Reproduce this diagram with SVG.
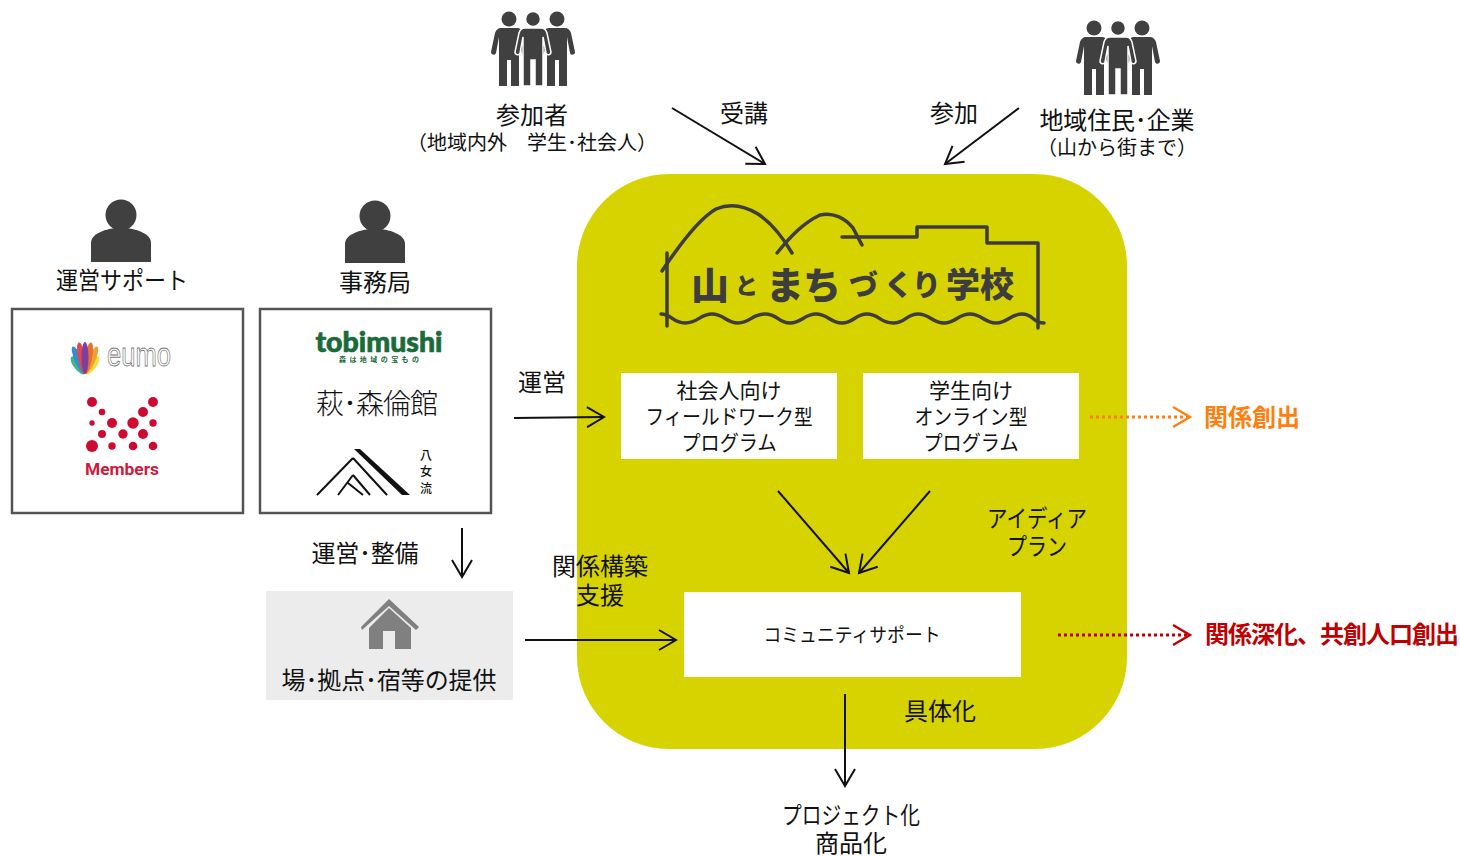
<svg xmlns="http://www.w3.org/2000/svg" width="1460" height="856" viewBox="0 0 1460 856">
<style>
text{font-family:"Noto Sans CJK JP","Noto Sans",sans-serif;fill:#111;text-anchor:middle}
.t23{font-size:24px}.t21{font-size:21px}.t19{font-size:19px}
.box{fill:#fff;stroke:#555;stroke-width:2.5}
.w{fill:#fff}
.c{fill:none;stroke:#111;stroke-width:2}
.ico{fill:#404040}
.logo{fill:none;stroke:#3d3d3d;stroke-width:3.5;stroke-linecap:round;stroke-linejoin:round}
.lt{fill:#3d3d3d;font-weight:900;text-anchor:start}
.red{fill:#cf0a32}
</style>
<defs>
<marker id="a" markerWidth="24" markerHeight="24" refX="20" refY="12" markerUnits="userSpaceOnUse" orient="auto"><path d="M3 2L20 12L3 22" fill="none" stroke="#111" stroke-width="2"/></marker>
<marker id="ao" markerWidth="24" markerHeight="24" refX="20" refY="12" markerUnits="userSpaceOnUse" orient="auto"><path d="M3 2L20 12L3 22" fill="none" stroke="#ff7f0e" stroke-width="2.4"/></marker>
<marker id="ar" markerWidth="24" markerHeight="24" refX="20" refY="12" markerUnits="userSpaceOnUse" orient="auto"><path d="M3 2L20 12L3 22" fill="none" stroke="#c00000" stroke-width="2.4"/></marker>
<g id="p"><circle cx="0" cy="0" r="15.5"/><path d="M-30 47V28C-30 19-16 13 0 13S30 19 30 28V47Z"/></g>
<g id="m"><circle cx="0" cy="0" r="7.5"/><path d="M-8 9H8C11 9 13 11 14 14L18 33C18 36 14 37 13 34L10 18V67H2V41H-2V67H-10V18L-13 34C-14 37-18 36-18 33L-14 14C-13 11-11 9-8 9Z"/></g>
</defs>

<g id="school"><rect x="577" y="174" width="550" height="575" rx="92" fill="#d7d300"/></g>
<g id="logo">
<path class="logo" d="M662 271C680 244 700 218 716 209C730 203 745 206 758 214C770 222 782 236 792 253"/>
<path class="logo" d="M777 253C790 237 803 223 820 215C833 212 845 218 853 228L862 245"/>
<path class="logo" d="M842 237H917V227H987V243H1038V328"/>
<path class="logo" d="M667 253V326"/>
<path class="logo" d="M661 314C672 314 672 323 685 323S700 314 712 314S726 323 738 323S752 314 765 314S778 323 790 323S804 314 816 314S830 323 842 323S855 314 867 314S880 323 893 323S906 314 918 314S932 323 944 323S958 314 970 314S984 323 996 323S1010 314 1022 314S1032 323 1044 323"/>
<text class="lt" font-size="38" x="691" y="299">山</text>
<text class="lt" font-size="23" x="735" y="294">と</text>
<text class="lt" font-size="38" x="766" y="299">ま</text>
<text class="lt" font-size="38" x="803" y="299">ち</text>
<text class="lt" font-size="29" x="849" y="296">づ</text>
<text class="lt" font-size="29" x="884" y="296">く</text>
<text class="lt" font-size="29" x="912" y="296">り</text>
<text class="lt" font-size="34" x="946" y="297">学校</text>
</g>

<g id="participants" class="ico"><use href="#m" x="509" y="19"/><use href="#m" x="557" y="19"/><use href="#m" x="533" y="19" stroke="#fff" stroke-width="1.5"/></g>
<g id="participants-label"><text class="t23" x="532" y="124">参加者</text><text class="t21" x="532" y="150" font-size="20" style="font-size:20px">（地域内外　学生･社会人）</text></g>
<g id="residents" class="ico"><use href="#m" x="1094" y="28"/><use href="#m" x="1142" y="28"/><use href="#m" x="1118" y="28" stroke="#fff" stroke-width="1.5"/></g>
<g id="residents-label"><text class="t23" x="1117" y="129" textLength="155">地域住民･企業</text><text class="t21" x="1117" y="155" style="font-size:20px">（山から街まで）</text></g>

<g id="support"><use href="#p" x="121" y="215" class="ico"/><text class="t23" x="122" y="289" textLength="132" lengthAdjust="spacingAndGlyphs">運営サポート</text>
<rect class="box" x="12" y="309" width="231" height="204"/>
<g id="eumo-logo">
<ellipse cx="85" cy="363" rx="4.5" ry="11" fill="#3fb58c" transform="rotate(-38 85 374)"/>
<ellipse cx="85" cy="359" rx="4" ry="15" fill="#2f8fd0" transform="rotate(-24 85 374)"/>
<ellipse cx="85" cy="358" rx="4" ry="16" fill="#e0484e" transform="rotate(-11 85 374)"/>
<ellipse cx="85" cy="363" rx="4.5" ry="11" fill="#f3dc3c" transform="rotate(38 85 374)"/>
<ellipse cx="85" cy="359" rx="4" ry="15" fill="#f0a030" transform="rotate(24 85 374)"/>
<ellipse cx="85" cy="358" rx="4" ry="16" fill="#e8702a" transform="rotate(11 85 374)"/>
<ellipse cx="85" cy="358" rx="3.5" ry="16" fill="#7b3fa0"/>
<text x="139" y="366" font-size="33" textLength="64" lengthAdjust="spacingAndGlyphs" style="fill:none;stroke:#777;stroke-width:.8;font-family:'Liberation Sans',sans-serif">eumo</text></g>
<g id="members-logo" class="red">
<circle cx="92" cy="402" r="5"/><circle cx="153" cy="402" r="5"/><circle cx="102" cy="412" r="3.3"/><circle cx="143" cy="412" r="5"/><circle cx="92" cy="423" r="2.7"/><circle cx="112" cy="423" r="5"/><circle cx="133" cy="423" r="5.7"/><circle cx="153" cy="423" r="3.7"/><circle cx="102" cy="434" r="4"/><circle cx="123" cy="434" r="4.7"/><circle cx="143" cy="434" r="5"/><circle cx="92" cy="446" r="6"/><circle cx="112" cy="446" r="3.7"/><circle cx="133" cy="446" r="4.3"/><circle cx="153" cy="446" r="4.3"/>
<text x="122" y="475" font-size="16" font-weight="700" textLength="74" lengthAdjust="spacingAndGlyphs" style="fill:#cf1a40;font-family:'Roboto',sans-serif">Members</text></g>
</g>

<g id="secretariat"><use href="#p" x="375" y="216" class="ico"/><text class="t23" x="375" y="291">事務局</text>
<rect class="box" x="260" y="309" width="231" height="204"/>
<text x="379" y="352" font-size="28" font-weight="900" textLength="127" lengthAdjust="spacingAndGlyphs" style="fill:#1a6b3a;stroke:#1a6b3a;stroke-width:.7;font-family:'Lato',sans-serif">tobimushi</text>
<text x="379" y="362" font-size="7" textLength="80" style="fill:#1a6b3a;font-weight:700">森は地域の宝もの</text>
<text x="377" y="414" font-size="28" textLength="122" style="font-weight:300">萩･森倫館</text>
<g id="yame-logo"><path d="M353 458L317 495M353 458L387 495M353 475L338 495M353 475L370 495M348 483L363 495" fill="none" stroke="#111" stroke-width="2"/><path d="M354 449L360 449L410 495H402Z" fill="#111"/>
<text x="426" y="460" font-size="12" font-weight="500">八</text><text x="426" y="476" font-size="12" font-weight="500">女</text><text x="426" y="493" font-size="12" font-weight="500">流</text></g>
</g>

<g id="facility"><rect x="266" y="591" width="247" height="109" fill="#ececec"/>
<path d="M389 599L419 627L416 630L389 606L362 630L361 627Z" fill="#808080"/><path d="M389 608L411 628V649H395V631H383V649H369V628Z" fill="#808080"/>
<text class="t23" x="389" y="689" textLength="215">場･拠点･宿等の提供</text></g>

<g id="prog1"><rect class="w" x="621" y="373" width="216" height="86"/><text class="t21" x="729" y="398">社会人向け</text><text class="t21" x="729" y="424" textLength="167" lengthAdjust="spacingAndGlyphs">フィールドワーク型</text><text class="t21" x="729" y="450" textLength="95" lengthAdjust="spacingAndGlyphs">プログラム</text></g>
<g id="prog2"><rect class="w" x="863" y="373" width="216" height="86"/><text class="t21" x="971" y="398">学生向け</text><text class="t21" x="971" y="424" textLength="113" lengthAdjust="spacingAndGlyphs">オンライン型</text><text class="t21" x="971" y="450" textLength="95" lengthAdjust="spacingAndGlyphs">プログラム</text></g>
<g id="community"><rect class="w" x="684" y="592" width="337" height="85"/><text class="t19" x="852" y="642" textLength="177" lengthAdjust="spacingAndGlyphs">コミュニティサポート</text></g>

<g id="connectors">
<path class="c" marker-end="url(#a)" d="M672 108L765 164"/>
<path class="c" marker-end="url(#a)" d="M1019 108L945 164"/>
<path class="c" marker-end="url(#a)" d="M514 418L604 417"/>
<path class="c" marker-end="url(#a)" d="M462 528V577"/>
<path class="c" marker-end="url(#a)" d="M525 640H676"/>
<path class="c" marker-end="url(#a)" d="M778 491L849 573"/>
<path class="c" marker-end="url(#a)" d="M930 491L859 573"/>
<path class="c" marker-end="url(#a)" d="M845 694V786"/>
<path fill="none" stroke="#ff7f0e" stroke-width="3" stroke-dasharray="3 3" marker-end="url(#ao)" d="M1090 417H1190"/>
<path fill="none" stroke="#c00000" stroke-width="3" stroke-dasharray="3 3" marker-end="url(#ar)" d="M1058 635H1190"/>
</g>

<g id="labels">
<text class="t23" x="744" y="122">受講</text>
<text class="t23" x="954" y="122">参加</text>
<text class="t23" x="542" y="391">運営</text>
<text class="t23" x="365" y="562" textLength="107">運営･整備</text>
<text class="t23" x="600" y="575">関係構築</text>
<text class="t23" x="600" y="604">支援</text>
<text class="t23" x="1037" y="527" textLength="100" lengthAdjust="spacingAndGlyphs">アイディア</text>
<text class="t23" x="1037" y="555" textLength="60" lengthAdjust="spacingAndGlyphs">プラン</text>
<text class="t23" x="940" y="720">具体化</text>
<text class="t23" x="851" y="824" textLength="138" lengthAdjust="spacingAndGlyphs">プロジェクト化</text>
<text class="t23" x="851" y="852">商品化</text>
<text class="t23" x="1252" y="426" style="fill:#ff7f0e;font-weight:700">関係創出</text>
<text class="t23" x="1332" y="643" textLength="254" style="fill:#c00000;font-weight:700">関係深化、共創人口創出</text>
</g>
</svg>
